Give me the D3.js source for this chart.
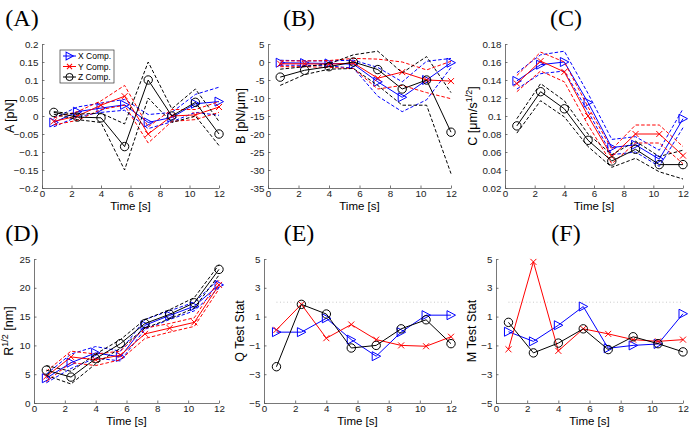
<!DOCTYPE html>
<html>
<head>
<meta charset="utf-8">
<script src="https://cdn.jsdelivr.net/npm/d3@7"></script>
<style>
  body { margin: 0; background: #fff; }
  #svg-container { width: 695px; height: 431px; }
  svg text { font-family: "Liberation Sans", Arial, sans-serif; }
  .title { font-family: "Liberation Serif", "DejaVu Serif", serif !important; }
</style>
</head>
<body>
<div id="svg-container"></div>
<script>
var times = [0.8, 2.4, 4.0, 5.6, 7.2, 8.8, 10.4, 12.0];
var xTicks = [0, 2, 4, 6, 8, 10, 12];

// (A) force offset
var aX   = [-0.018, 0.012, 0.022, 0.031, -0.018, -0.004, 0.034, 0.040];
var aXHi = [-0.006, 0.025, 0.036, 0.046, 0.004, 0.010, 0.060, 0.080];
var aXLo = [-0.030, -0.002, 0.010, 0.016, -0.035, -0.016, 0.010, 0.002];
var aY   = [-0.015, 0.000, 0.030, 0.055, -0.050, 0.000, 0.003, 0.025];
var aYHi = [-0.005, 0.012, 0.042, 0.085, -0.030, 0.018, 0.018, 0.040];
var aYLo = [-0.025, -0.012, 0.018, 0.030, -0.075, -0.015, -0.010, 0.010];
var aZ   = [0.010, -0.003, -0.005, -0.085, 0.100, 0.000, 0.038, -0.050];
var aZHi = [0.012, 0.005, 0.008, -0.022, 0.150, 0.020, 0.075, -0.015];
var aZLo = [0.005, -0.010, -0.018, -0.150, 0.050, -0.018, 0.000, -0.082];

// (B) stiffness
var bX   = [-0.2, -0.3, -0.4, -0.6, -5.5, -9.8, -5.0, -0.2];
var bXHi = [0.5, 0.3, 0.3, 0.5, -1.5, -5.5, 0.2, 1.0];
var bXLo = [-0.9, -0.9, -1.1, -1.7, -9.5, -13.8, -10.5, -1.5];
var bY   = [-0.5, -0.5, -0.6, -0.3, -4.5, -2.8, -5.0, -5.3];
var bYHi = [0.3, 0.3, 0.4, 1.0, 0.8, 0.0, -2.2, 0.2];
var bYLo = [-1.3, -1.3, -1.5, -1.8, -7.5, -6.5, -8.5, -10.2];
var bZ   = [-4.2, -2.3, -1.3, 0.0, -2.1, -7.5, -5.0, -19.5];
var bZHi = [-2.0, -1.3, -0.5, 2.0, 3.0, -3.0, 1.5, -8.5];
var bZLo = [-6.5, -3.5, -2.0, -1.8, -6.5, -12.0, -12.0, -31.0];

// (C) diffusion
var cX   = [0.139, 0.157, 0.160, 0.115, 0.065, 0.068, 0.052, 0.097];
var cXHi = [0.148, 0.168, 0.172, 0.125, 0.074, 0.077, 0.062, 0.108];
var cXLo = [0.130, 0.147, 0.150, 0.105, 0.057, 0.060, 0.044, 0.087];
var cY   = [0.136, 0.161, 0.149, 0.100, 0.055, 0.080, 0.080, 0.056];
var cYHi = [0.145, 0.171, 0.160, 0.110, 0.063, 0.090, 0.090, 0.066];
var cYLo = [0.127, 0.150, 0.138, 0.090, 0.047, 0.070, 0.070, 0.047];
var cZ   = [0.089, 0.127, 0.108, 0.073, 0.050, 0.063, 0.046, 0.046];
var cZHi = [0.097, 0.136, 0.117, 0.080, 0.057, 0.072, 0.055, 0.062];
var cZLo = [0.081, 0.117, 0.099, 0.066, 0.043, 0.053, 0.038, 0.030];

// (D) noise
var dX   = [4.3, 7.0, 8.7, 8.0, 13.5, 15.2, 16.8, 20.5];
var dXHi = [5.0, 8.5, 9.8, 9.0, 14.5, 16.0, 17.5, 21.5];
var dXLo = [3.5, 6.0, 7.8, 7.3, 12.8, 14.5, 16.0, 20.0];
var dY   = [4.6, 8.0, 7.5, 8.3, 12.0, 13.0, 14.0, 20.5];
var dYHi = [5.5, 9.0, 8.5, 9.0, 13.0, 13.8, 14.8, 21.3];
var dYLo = [3.7, 7.0, 6.5, 7.5, 11.2, 12.3, 13.3, 19.8];
var dZ   = [5.7, 4.5, 7.7, 10.3, 13.8, 15.4, 17.4, 23.2];
var dZHi = [6.5, 5.5, 8.5, 11.0, 14.5, 16.2, 18.3, 24.0];
var dZLo = [4.8, 3.3, 6.8, 9.5, 13.0, 14.6, 16.5, 22.2];

// (E) Q test stat, (F) M test stat
var eX = [-0.08, -0.08, 0.88, -0.6, -1.75, -0.08, 1.1, 1.1];
var eY = [0.08, 1.85, -0.5, 0.45, -0.6, -1.0, -1.06, -0.4];
var eZ = [-2.48, 1.85, 1.18, -1.18, -1.0, 0.15, 0.78, -0.88];
var fX = [-0.05, -0.72, 0.4, 1.7, -1.2, -1.0, -0.9, 1.2];
var fY = [-1.27, 4.8, -1.38, 0.15, -0.2, -0.6, -0.72, -0.6];
var fZ = [0.6, -1.52, -0.84, 0.15, -1.29, -0.4, -0.88, -1.45];
var statLimit = 2;

var aTicks = d3.range(-0.2, 0.2001, 0.05);
var bTicks = d3.range(-35, 5.1, 5);
var cTicks = d3.range(0.02, 0.1801, 0.02);
var dTicks = d3.range(0, 25.1, 5);
var statTicks = [-5, -3, -1, 1, 3, 5];

var blue = "#0000ff", red = "#ff0000", black = "#000000";

var panels = [
  { title: "(A)", tx: 22, ty: 26, left: 42, right: 219, top: 44, bottom: 188, labX: 14,
    label: ["A [pN]"], domain: [-0.2, 0.2], ticks: aTicks,
    fmt: function(d) { return d3.format("~g")(+d.toFixed(2)); }, legend: true,
    series: [[aX, aXHi, aXLo], [aY, aYHi, aYLo], [aZ, aZHi, aZLo]] },
  { title: "(B)", tx: 299, ty: 26, left: 268, right: 451, top: 44, bottom: 188, labX: 245,
    label: ["B [pN/\u03bcm]"], domain: [-35, 5], ticks: bTicks,
    fmt: function(d) { return Math.round(d); },
    series: [[bX, bXHi, bXLo], [bY, bYHi, bYLo], [bZ, bZHi, bZLo]] },
  { title: "(C)", tx: 566, ty: 26, left: 505, right: 683, top: 44, bottom: 188, labX: 477,
    label: ["C [\u03bcm/s", "1/2", "]"], domain: [0.02, 0.18], ticks: cTicks,
    fmt: function(d) { return d3.format("~g")(+d.toFixed(2)); },
    series: [[cX, cXHi, cXLo], [cY, cYHi, cYLo], [cZ, cZHi, cZLo]] },
  { title: "(D)", tx: 22, ty: 241, left: 34, right: 219, top: 259, bottom: 403, labX: 13,
    label: ["R", "1/2", " [nm]"], domain: [0, 25], ticks: dTicks,
    fmt: function(d) { return Math.round(d); },
    series: [[dX, dXHi, dXLo], [dY, dYHi, dYLo], [dZ, dZHi, dZLo]] },
  { title: "(E)", tx: 299, ty: 241, left: 264, right: 451, top: 259, bottom: 403, labX: 244,
    label: ["Q Test Stat"], domain: [-5, 5], ticks: statTicks, limit: true,
    fmt: function(d) { return d < 0 ? "\u2212" + (-d) : d; },
    series: [[eX], [eY], [eZ]] },
  { title: "(F)", tx: 566, ty: 241, left: 496, right: 683, top: 259, bottom: 403, labX: 476,
    label: ["M Test Stat"], domain: [-5, 5], ticks: statTicks, limit: true,
    fmt: function(d) { return d < 0 ? "\u2212" + (-d) : d; },
    series: [[fX], [fY], [fZ]] }
];

var colors = [blue, red, black];
var markers = ["tri", "x", "o"];
var names = ["X Comp.", "Y Comp.", "Z Comp."];

var svg = d3.select("#svg-container")
            .append("svg")
            .attr("width", 695)
            .attr("height", 431);

function drawMarker(g, type, color, s) {
  s = s || 1;
  if (type == "tri") {
    g.append("path").attr("d", "M-4,-4.5L4.5,0L-4,4.5Z")
     .attr("transform", "scale(" + s + ")")
     .attr("fill", "none").attr("stroke", color).attr("stroke-width", 1 / s);
  } else if (type == "x") {
    g.append("path").attr("d", "M-3,-3L3,3M-3,3L3,-3")
     .attr("transform", "scale(" + s + ")")
     .attr("stroke", color).attr("stroke-width", 1 / s);
  } else {
    g.append("circle").attr("r", 4.2 * s)
     .attr("fill", "none").attr("stroke", color).attr("stroke-width", 1);
  }
}

panels.forEach(function(p) {
  var scaleX = d3.scaleLinear().domain([0, 12]).range([p.left, p.right]);
  var scaleY = d3.scaleLinear().domain(p.domain).range([p.bottom, p.top]);
  var g = svg.append("g");

  g.append("g")
   .attr("class", "xAxis")
   .attr("transform", "translate(0," + p.bottom + ")")
   .call(d3.axisBottom(scaleX).tickValues(xTicks).tickSizeInner(-2.5).tickSizeOuter(0).tickPadding(2));

  g.append("g")
   .attr("class", "yAxis")
   .attr("transform", "translate(" + p.left + ",0)")
   .call(d3.axisLeft(scaleY).tickValues(p.ticks).tickSizeInner(-2.5).tickSizeOuter(0).tickPadding(3.5)
           .tickFormat(p.fmt));

  g.selectAll(".domain, .tick line").attr("stroke", "#555").attr("stroke-width", 0.8);
  g.selectAll(".tick text").attr("font-size", 9.8).attr("fill", "#222")
   .attr("font-family", "Liberation Sans, Arial, sans-serif");

  if (p.limit) {
    g.append("line")
     .attr("x1", scaleX(times[0])).attr("x2", scaleX(12))
     .attr("y1", scaleY(statLimit)).attr("y2", scaleY(statLimit))
     .attr("stroke", "#c8c8c8").attr("stroke-width", 1).attr("stroke-dasharray", "1,2.5");
  }

  var line = d3.line()
               .x(function(d, i) { return scaleX(times[i]); })
               .y(function(d) { return scaleY(d); });

  p.series.forEach(function(s, k) {
    for (var j = 1; j < s.length; j++) {
      g.append("path")
       .datum(s[j])
       .attr("fill", "none")
       .attr("stroke", colors[k])
       .attr("stroke-width", 1)
       .attr("stroke-dasharray", "3.5,2")
       .attr("d", line);
    }
    g.append("path")
     .datum(s[0])
     .attr("fill", "none")
     .attr("stroke", colors[k])
     .attr("stroke-width", 1)
     .attr("d", line);
    s[0].forEach(function(v, i) {
      var m = g.append("g").attr("transform", "translate(" + scaleX(times[i]) + "," + scaleY(v) + ")");
      drawMarker(m, markers[k], colors[k]);
    });
  });

  // axis labels
  g.append("text")
   .attr("x", (p.left + p.right) / 2)
   .attr("y", p.bottom + 21.5)
   .attr("text-anchor", "middle")
   .attr("font-size", 11.5)
   .text("Time [s]");

  var yl = g.append("text")
            .attr("transform", "translate(" + p.labX + "," + ((p.top + p.bottom) / 2) + ") rotate(-90)")
            .attr("text-anchor", "middle")
            .attr("font-size", 12.5);
  yl.append("tspan").text(p.label[0]);
  if (p.label.length > 1) {
    yl.append("tspan").attr("dy", -5).attr("font-size", 9).text(p.label[1]);
    yl.append("tspan").attr("dy", 5).text(p.label[2]);
  }

  g.append("text")
   .attr("class", "title")
   .attr("x", p.tx)
   .attr("y", p.ty)
   .attr("text-anchor", "middle")
   .attr("font-size", 24)
   .text(p.title);

  if (p.legend) {
    var lg = g.append("g").attr("transform", "translate(60,50)");
    lg.append("rect").attr("width", 54).attr("height", 33)
      .attr("fill", "#fff").attr("stroke", "#333").attr("stroke-width", 0.7);
    names.forEach(function(n, k) {
      var row = lg.append("g").attr("transform", "translate(0," + (6 + k * 10.5) + ")");
      row.append("line").attr("x1", 3).attr("x2", 16).attr("y1", 0).attr("y2", 0)
         .attr("stroke", colors[k]).attr("stroke-width", 1);
      var m = row.append("g").attr("transform", "translate(9.5,0)");
      drawMarker(m, markers[k], colors[k], 0.85);
      row.append("text").attr("x", 18).attr("y", 3).attr("font-size", 8.5).text(n);
    });
  }
});
</script>
</body>
</html>
